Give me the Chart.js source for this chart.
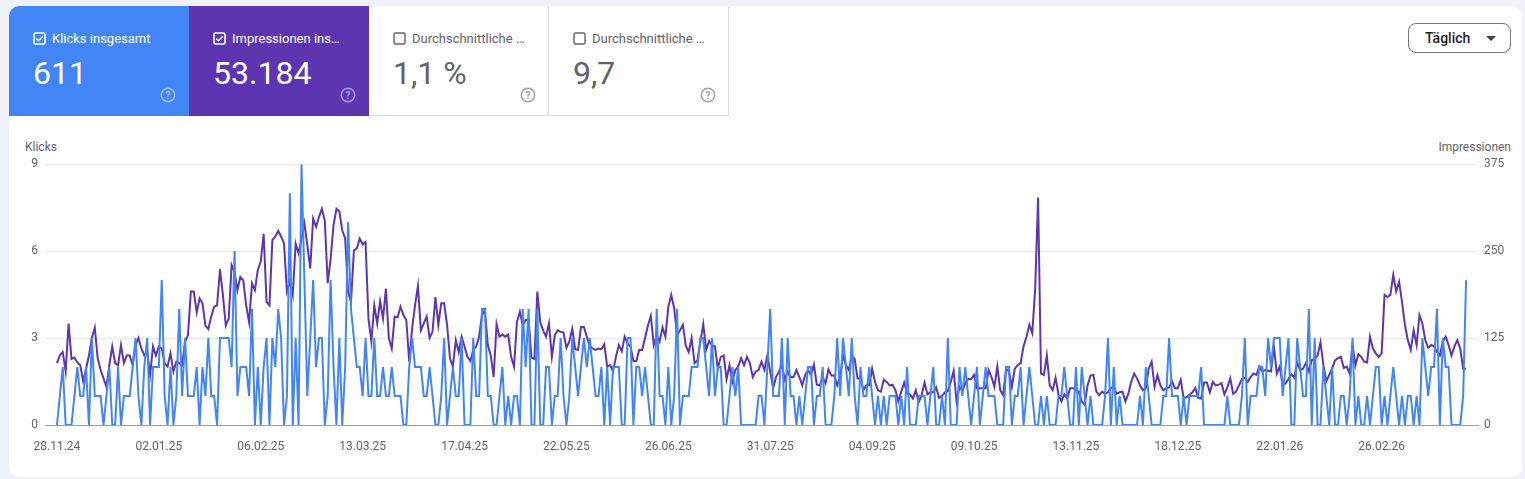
<!DOCTYPE html>
<html lang="de">
<head>
<meta charset="utf-8">
<title>Leistung</title>
<script src="https://cdn.jsdelivr.net/npm/chart.js@4.4.1/dist/chart.umd.min.js"></script>
<style>
  html, body { margin: 0; padding: 0; }
  body {
    width: 1525px; height: 479px; position: relative; overflow: hidden;
    background: #eef2f8; font-family: Roboto, "Noto Sans", Arial, sans-serif;
  }
  .card {
    position: absolute; left: 9px; top: 6px; width: 1513px; height: 471px;
    background: #fff; border-radius: 10px; overflow: hidden;
  }
  .tile { position: absolute; top: 0; width: 180px; height: 110px; box-sizing: border-box; }
  .tile.klicks { left: 0; background: #4285f4; color: #fff; }
  .tile.impr { left: 180px; background: #5e35b1; color: #fff; }
  .tile.ctr { left: 360px; color: #5f6368; border-right: 1px solid #dadce0; border-bottom: 1px solid #dadce0; }
  .tile.pos { left: 540px; color: #5f6368; border-right: 1px solid #dadce0; border-bottom: 1px solid #dadce0; }
  .cb { position: absolute; left: 24px; top: 26px; width: 13px; height: 13px; }
  .label { position: absolute; left: 43px; top: 25px; font-size: 13px; white-space: nowrap; }
  .num { position: absolute; left: 24px; top: 48px; font-size: 32px; }
  .help { position: absolute; left: 151px; top: 81px; width: 16px; height: 16px; }
  .btn {
    position: absolute; left: 1399px; top: 17px; width: 103px; height: 30px;
    box-sizing: border-box; border: 1px solid #747775; border-radius: 8px;
    font-size: 14px; font-weight: 500; color: #1f1f1f;
  }
  .btn span { position: absolute; left: 16px; top: 6px; }
  .btn i {
    position: absolute; left: 77px; top: 12px; width: 0; height: 0;
    border-left: 5px solid transparent; border-right: 5px solid transparent;
    border-top: 5px solid #444;
  }
  .axtitle { position: absolute; top: 140px; font-size: 12px; color: #5f6368; }
  #chart { position: absolute; left: 15px; top: 150px; }
</style>
</head>
<body>
<div class="card">
  <div class="tile klicks">
    <svg class="cb" viewBox="0 0 13 13"><rect x="1" y="1" width="11" height="11" rx="1.5" fill="none" stroke="#fff" stroke-width="1.6"/><path d="M3.3 6.6 L5.5 8.8 L9.8 4.3" fill="none" stroke="#fff" stroke-width="1.5"/></svg>
    <div class="label">Klicks insgesamt</div>
    <div class="num">611</div>
    <svg class="help" viewBox="0 0 16 16"><circle cx="8" cy="8" r="6.7" fill="none" stroke="rgba(255,255,255,0.5)" stroke-width="1.4"/><text x="8" y="11.6" text-anchor="middle" font-size="10" font-weight="700" fill="rgba(255,255,255,0.5)">?</text></svg>
  </div>
  <div class="tile impr">
    <svg class="cb" viewBox="0 0 13 13"><rect x="1" y="1" width="11" height="11" rx="1.5" fill="none" stroke="#fff" stroke-width="1.6"/><path d="M3.3 6.6 L5.5 8.8 L9.8 4.3" fill="none" stroke="#fff" stroke-width="1.5"/></svg>
    <div class="label">Impressionen ins…</div>
    <div class="num">53.184</div>
    <svg class="help" viewBox="0 0 16 16"><circle cx="8" cy="8" r="6.7" fill="none" stroke="rgba(255,255,255,0.5)" stroke-width="1.4"/><text x="8" y="11.6" text-anchor="middle" font-size="10" font-weight="700" fill="rgba(255,255,255,0.5)">?</text></svg>
  </div>
  <div class="tile ctr">
    <svg class="cb" viewBox="0 0 13 13"><rect x="1" y="1" width="11" height="11" rx="1.5" fill="none" stroke="#5f6368" stroke-width="1.4"/></svg>
    <div class="label">Durchschnittliche …</div>
    <div class="num">1,1 %</div>
    <svg class="help" viewBox="0 0 16 16"><circle cx="8" cy="8" r="6.7" fill="none" stroke="#9aa0a6" stroke-width="1.4"/><text x="8" y="11.6" text-anchor="middle" font-size="10" font-weight="700" fill="#9aa0a6">?</text></svg>
  </div>
  <div class="tile pos">
    <svg class="cb" viewBox="0 0 13 13"><rect x="1" y="1" width="11" height="11" rx="1.5" fill="none" stroke="#5f6368" stroke-width="1.4"/></svg>
    <div class="label">Durchschnittliche …</div>
    <div class="num">9,7</div>
    <svg class="help" viewBox="0 0 16 16"><circle cx="8" cy="8" r="6.7" fill="none" stroke="#9aa0a6" stroke-width="1.4"/><text x="8" y="11.6" text-anchor="middle" font-size="10" font-weight="700" fill="#9aa0a6">?</text></svg>
  </div>
  <div class="btn"><span>Täglich</span><i></i></div>
</div>
<div class="axtitle" style="left:25px">Klicks</div>
<div class="axtitle" style="right:14px">Impressionen</div>
<canvas id="chart" width="1500" height="305"></canvas>

<script>
// tägliche Werte ab 28.11.24 (485 Tage)
const xTickLabels = ['28.11.24', '02.01.25', '06.02.25', '13.03.25', '17.04.25', '22.05.25', '26.06.25',
    '31.07.25', '04.09.25', '09.10.25', '13.11.25', '18.12.25', '22.01.26', '26.02.26'];
const tickStepDays = 35;

const klicks = [
    0,1,2,0,0,0,1,2,1,1, 2,0,3,1,1,1,0,1,2,0, 0,2,0,1,1,1,2,3,1,0, 2,3,0,2,2,2,5,1,0,2,
    0,1,4,1,3,1,1,1,2,0, 2,1,3,1,1,0,3,3,3,3, 2,6,1,2,2,2,1,4,0,2,
    0,2,3,0,3,2,4,3,0,1, 8,0,3,0,9,5,1,3,5,2, 3,3,0,1,5,2,0,3,0,2, 7,4,3,2,2,1,3,1,1,3,
    1,1,2,1,1,2,1,1,1,0, 0,2,3,2,2,2,1,1,2,1, 0,0,1,3,0,1,2,1,1,3,
    0,0,0,3,1,1,4,4,1,1, 0,0,1,2,0,1,0,1,1,0, 4,2,4,0,0,4,0,0,2,2, 0,1,1,3,1,0,1,3,2,1,
    2,3,2,3,2,1,1,2,0,2, 0,2,2,2,0,0,3,3,0,2, 2,1,2,1,0,0,4,1,1,0,
    2,0,1,4,0,1,1,1,2,2, 2,3,3,2,1,3,1,2,2,0, 0,1,2,1,2,0,0,0,0,0, 0,1,1,0,2,4,1,1,1,3,
    0,3,1,1,0,1,0,1,2,2, 0,1,1,2,0,0,0,1,3,1, 3,2,1,3,1,0,2,1,1,2,
    1,0,1,0,1,0,1,1,1,0, 1,0,2,0,0,0,1,1,1,0, 1,2,0,0,1,0,3,0,0,0, 2,1,2,1,0,1,2,0,1,2,
    1,1,1,0,0,0,2,2,0,1, 1,2,0,1,2,1,0,0,1,0, 1,0,0,0,1,1,2,1,0,0,
    2,0,2,1,0,1,0,0,0,0, 1,3,0,2,0,1,0,0,0,0, 0,0,1,0,2,1,0,0,0,0, 1,1,3,1,1,1,0,1,0,1,
    1,1,1,2,0,0,0,0,0,0, 0,0,1,0,0,0,0,1,3,0, 1,1,1,2,2,1,3,2,3,3,
    3,1,2,3,0,0,3,2,1,1, 4,0,3,0,0,2,1,0,2,0, 0,1,1,0,1,3,0,1,0,0, 1,0,1,2,2,0,1,0,1,2,
    1,0,1,0,1,1,0,1,0,3, 2,1,2,2,4,0,3,2,2,0, 0,0,0,1,5
];

const impressionen = [
    89,100,105,77,146,95,97,90,86,63, 81,100,125,140,96,79,67,55,86,113,
    89,86,115,89,100,100,86,115,125,110, 100,105,72,113,100,113,110,89,84,103,
    77,91,89,86,120,129,192,192,162,182, 175,143,138,156,170,172,224,187,143,153,
    230,220,194,213,208,172,148,204,194,223,
    235,275,177,172,266,271,279,271,261,192, 206,187,261,247,268,290,259,225,297,285,
    299,311,294,204,239,287,311,307,280,268, 192,177,251,254,268,260,263,153,120,172,
    146,178,153,196,125,110,156,155,170,158, 151,91,139,172,200,136,146,156,125,134,
    184,144,175,175,144,96,84,122,105,127,
    113,98,92,108,113,127,158,165,115,100, 69,145,127,130,127,130,98,84,148,163,
    143,151,151,97,95,192,148,136,127,146, 98,129,136,134,133,111,120,138,109,108,
    141,141,127,113,110,108,110,109,116,84, 86,77,98,115,106,127,117,113,92,92,
    108,108,125,143,157,115,129,120,140,127,
    170,187,168,129,136,144,114,105,125,89, 93,120,145,108,121,114,113,81,98,100,
    66,86,62,79,84,96,86,98,89,69, 77,79,91,79,100,77,53,69,77,86,
    65,77,69,69,79,69,57,72,79,72, 87,58,57,68,60,80,71,71,57,69,
    100,86,79,100,95,67,66,50,57,57,
    81,62,50,48,65,62,57,58,50,34, 48,61,45,44,38,50,33,43,61,44,
    47,47,54,39,42,47,49,62,78,34, 55,49,60,66,66,72,53,53,53,53,
    79,69,55,84,50,43,81,77,55,81, 86,89,113,127,144,132,196,327,74,72,
    100,57,50,68,44,34,44,38,53,53,
    50,48,34,29,57,71,72,48,43,48, 45,47,53,55,45,47,48,34,45,62,
    74,67,57,50,53,81,91,55,72,57, 50,53,54,63,53,53,65,38,40,43,
    47,53,39,38,61,61,47,62,57,58, 60,44,54,67,45,48,57,66,68,62,
    69,74,72,84,77,79,78,77,113,74,
    84,57,60,66,73,68,90,79,81,89, 77,93,95,100,119,86,63,72,81,93,
    96,98,82,84,74,115,86,102,98,91, 90,127,110,103,98,103,187,184,187,216,
    192,206,177,144,122,108,136,115,158,146, 122,111,115,113,105,100,120,127,115,100,
    113,122,110,81,81
];

const klicksMax = 9, klicksStep = 3;
const imprMax = 375, imprStep = 125;

const tickFont = { family: 'Roboto', size: 12 };
const greyText = '#5f6368';

new Chart(document.getElementById('chart'), {
    type: 'line',
    data: {
        datasets: [
            {
                label: 'Klicks',
                data: klicks.map((v, i) => ({ x: i, y: v })),
                yAxisID: 'yK',
                borderColor: '#4285f4',
                borderWidth: 2,
                pointRadius: 0,
                tension: 0
            },
            {
                label: 'Impressionen',
                data: impressionen.map((v, i) => ({ x: i, y: v })),
                yAxisID: 'yI',
                borderColor: '#5e35b1',
                borderWidth: 2,
                pointRadius: 0,
                tension: 0
            }
        ]
    },
    options: {
        responsive: false,
        animation: false,
        layout: { padding: { top: 14, left: 0, right: 0, bottom: 0 } },
        plugins: { legend: { display: false }, tooltip: { enabled: false } },
        scales: {
            x: {
                type: 'linear',
                min: -4.1,
                max: 488.1,
                afterBuildTicks: s => {
                    s.ticks = xTickLabels.map((t, k) => ({ value: k * tickStepDays }));
                },
                afterFit: s => { s.height = 30; },
                ticks: {
                    autoSkip: false,
                    maxRotation: 0,
                    padding: 15,
                    color: greyText,
                    font: tickFont,
                    callback: v => xTickLabels[Math.round(v / tickStepDays)]
                },
                grid: { display: false, drawTicks: false },
                border: { color: '#9aa0a6', width: 1 }
            },
            yK: {
                position: 'left',
                min: 0,
                max: klicksMax,
                afterFit: s => { s.width = 30; },
                ticks: { stepSize: klicksStep, padding: 7, color: greyText, font: tickFont },
                grid: { color: '#e8eaed', drawTicks: false },
                border: { display: false }
            },
            yI: {
                position: 'right',
                min: 0,
                max: imprMax,
                afterFit: s => { s.width = 37; },
                ticks: { stepSize: imprStep, padding: 6, color: greyText, font: tickFont },
                grid: { display: false, drawTicks: false },
                border: { display: false }
            }
        }
    }
});
</script>
</body>
</html>
